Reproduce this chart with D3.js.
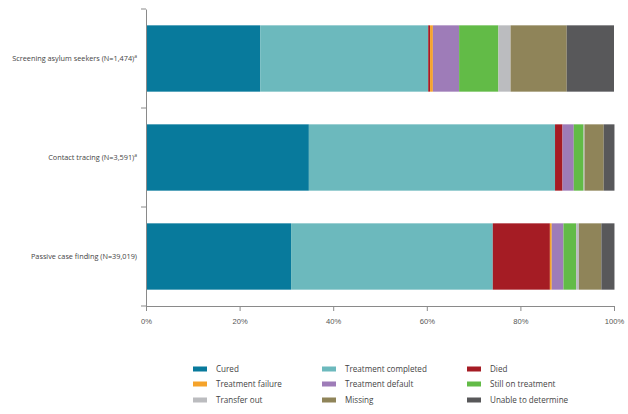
<!DOCTYPE html>
<html>
<head>
<meta charset="utf-8">
<script src="https://cdn.jsdelivr.net/npm/d3@7"></script>
<style>
  html, body { margin: 0; padding: 0; background: #fff; }
  svg { display: block; font-family: "Open Sans", "Noto Sans", sans-serif; }
</style>
</head>
<body>
<svg id="chart" width="628" height="414"></svg>
<script>
// ---- data ----
const categories = [
  "Screening asylum seekers (N=1,474)",
  "Contact tracing (N=3,591)",
  "Passive case finding (N=39,019)"
];
const superscripts = ["a", "a", ""];
const outcomes = [
  "Cured", "Treatment completed", "Died",
  "Treatment failure", "Treatment default", "Still on treatment",
  "Transfer out", "Missing", "Unable to determine"
];
const cured              = [24.4, 34.8, 31.0];
const treatmentCompleted = [35.9, 52.6, 43.1];
const died               = [0.4, 1.6, 12.2];
const treatmentFailure   = [0.6, 0.0, 0.4];
const treatmentDefault   = [5.6, 2.4, 2.5];
const stillOnTreatment   = [8.4, 2.1, 2.7];
const transferOut        = [2.6, 0.2, 0.6];
const missing            = [12.0, 4.1, 4.8];
const unableToDetermine  = [10.1, 2.3, 2.8];
const xTicks = [0, 20, 40, 60, 80, 100];
const colors = ["#087a9c", "#6cb9bd", "#a51c24", "#f5a32a", "#9e7cb8", "#62bb47", "#bbbcbf", "#8f8459", "#58585a"];

const seriesValues = [cured, treatmentCompleted, died, treatmentFailure, treatmentDefault,
  stillOnTreatment, transferOut, missing, unableToDetermine];

const rows = categories.map((c, i) => {
  const r = { category: c };
  outcomes.forEach((o, j) => r[o] = seriesValues[j][i]);
  return r;
});

// ---- layout ----
const svg = d3.select("#chart");
const margin = { left: 146, right: 14, top: 9, bottom: 108 };
const W = 628, H = 414;
const x = d3.scaleLinear().domain([0, 100]).range([margin.left, W - margin.right]);
const y = d3.scaleBand().domain(categories).range([margin.top, H - margin.bottom])
  .paddingInner(0.33).paddingOuter(0.165);

const stack = d3.stack().keys(outcomes);
const stacked = stack(rows);
const color = d3.scaleOrdinal().domain(outcomes).range(colors);

svg.append("g").selectAll("g").data(stacked).join("g")
  .attr("fill", d => color(d.key))
  .selectAll("rect").data(d => d).join("rect")
  .attr("x", d => x(d[0]))
  .attr("width", d => Math.max(0, x(d[1]) - x(d[0])))
  .attr("y", d => y(d.data.category))
  .attr("height", y.bandwidth());

// x axis
const axisColor = "#8a8a8a";
const xAxis = svg.append("g")
  .attr("transform", `translate(0,${H - margin.bottom})`)
  .call(d3.axisBottom(x).tickValues(xTicks).tickFormat(d => d + "%").tickSizeOuter(0).tickSize(5));
xAxis.select(".domain").attr("stroke", axisColor);
xAxis.selectAll(".tick line").attr("stroke", axisColor);
xAxis.selectAll(".tick text").attr("fill", "#555").attr("font-size", 7.6).attr("dy", "1.35em");

// y axis
const yAxis = svg.append("g").attr("transform", `translate(${margin.left},0)`)
  .call(d3.axisLeft(y).tickSize(0).tickSizeOuter(0).tickFormat(""));
yAxis.select(".domain").attr("stroke", axisColor);
yAxis.selectAll(".tick text").remove();
const step = y.step();
const boundaries = d3.range(categories.length + 1).map(i => y.range()[0] + i * step);
yAxis.selectAll(".bnd").data(boundaries).join("line")
  .attr("x1", -5).attr("x2", 0)
  .attr("y1", d => d).attr("y2", d => d)
  .attr("stroke", axisColor);

// category labels
const lab = svg.append("g").selectAll("text").data(categories).join("text")
  .attr("x", margin.left - 9)
  .attr("y", d => y(d) + y.bandwidth() / 2)
  .attr("dy", "0.35em")
  .attr("text-anchor", "end")
  .attr("font-size", 7.3)
  .attr("fill", "#444");
lab.append("tspan").text(d => d);
lab.append("tspan").text((d, i) => superscripts[i])
  .attr("font-size", 5).attr("dy", "-0.6em");

// legend
const legX = [193, 322, 467];
const legY = [369, 384, 400];
const leg = svg.append("g").selectAll("g").data(outcomes).join("g")
  .attr("transform", (d, i) => `translate(${legX[i % 3]},${legY[Math.floor(i / 3)]})`);
leg.append("rect").attr("x", 0).attr("y", -2.5).attr("width", 14).attr("height", 5)
  .attr("fill", d => color(d));
leg.append("text").attr("x", 23).attr("y", 0).attr("dy", "0.35em")
  .attr("font-size", 8.1).attr("fill", "#444").text(d => d);
</script>
</body>
</html>
